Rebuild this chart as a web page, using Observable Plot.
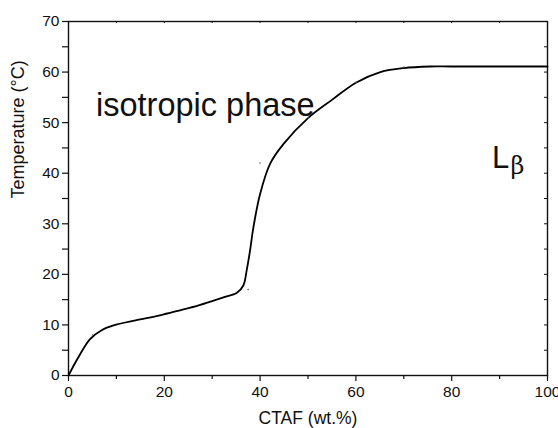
<!DOCTYPE html>
<html>
<head>
<meta charset="utf-8">
<script src="https://cdn.jsdelivr.net/npm/d3@7"></script>
<script src="https://cdn.jsdelivr.net/npm/@observablehq/plot@0.6"></script>
<style>
  html, body { margin: 0; padding: 0; background: #fff; }
  #chart svg { display: block; }
</style>
</head>
<body>
<div id="chart"></div>
<script>
// Phase boundary curve
const curveX = [0, 2, 4.5, 7, 9.4, 14, 19.1, 23.3, 27, 30.3, 32.5, 35.1, 36.5, 37.2, 37.9, 38.6, 40.0, 42.1, 44.9, 50, 55, 60, 65.1, 70.0, 75.5, 80, 100];
const curveY = [0, 3.5, 7.2, 9.0, 9.9, 10.9, 11.9, 12.9, 13.8, 14.8, 15.5, 16.3, 17.8, 20.8, 24.7, 29.3, 35.9, 41.9, 45.8, 50.9, 54.5, 57.9, 60.0, 60.8, 61.1, 61.1, 61.1];
// Measured points (small dots)
const dotX = [5, 37.5, 40, 50, 60, 70];
const dotY = [8, 17, 42, 51, 58, 61];
// Tick labels
const xMajor = [0, 20, 40, 60, 80, 100];
const xMinor = [10, 30, 50, 70, 90];
const yMajor = [0, 10, 20, 30, 40, 50, 60, 70];
const yMinor = [5, 15, 25, 35, 45, 55, 65];
const topTicks = [10, 20, 30, 40, 50, 60, 70, 80, 90];
const rightTicks = [5, 10, 15, 20, 25, 30, 35, 40, 45, 50, 55, 60, 65];

const curve = curveX.map((x, i) => ({x, y: curveY[i]}));
const dots = dotX.map((x, i) => ({x, y: dotY[i]}));

const W = 558, H = 428;
const mL = 68, mR = 11, mT = 21, mB = 53;
const plotW = W - mL - mR, plotH = H - mT - mB;
const font = "Liberation Sans, Arial, Helvetica, sans-serif";

const chart = Plot.plot({
  width: W,
  height: H,
  marginLeft: mL,
  marginRight: mR,
  marginTop: mT,
  marginBottom: mB,
  style: {fontFamily: font, color: "#111", background: "#fff"},
  x: {domain: [0, 100], axis: null},
  y: {domain: [0, 70], axis: null},
  marks: [
    Plot.axisY(yMajor, {anchor: "left", tickSize: 6, tickPadding: 3, fontSize: 15.5, label: null, stroke: "#111", strokeWidth: 1.2}),
    Plot.axisY(yMinor, {anchor: "left", tickSize: 6, text: null, label: null, stroke: "#111", strokeWidth: 1.2}),
    Plot.axisX(xMajor, {anchor: "bottom", tickSize: 6, tickPadding: 4, fontSize: 15.5, label: null, stroke: "#111", strokeWidth: 1.2}),
    Plot.axisX(xMinor, {anchor: "bottom", tickSize: 4, text: null, label: null, stroke: "#111", strokeWidth: 1.2}),
    Plot.ruleX(topTicks, {x: d => d, insetBottom: plotH - 2, stroke: "#111", strokeWidth: 1}),
    Plot.ruleY(rightTicks, {y: d => d, insetLeft: plotW - 3, stroke: "#111", strokeWidth: 1}),
    Plot.frame({stroke: "#111", strokeWidth: 1.4}),
    Plot.line(curve, {x: "x", y: "y", curve: "catmull-rom", stroke: "#000", strokeWidth: 1.8}),
    Plot.dot(dots, {x: "x", y: "y", r: 0.8, fill: "#666", stroke: null}),
    Plot.text(["isotropic phase"], {x: 5.75, y: 51.4, text: d => d, textAnchor: "start", lineAnchor: "bottom", fontSize: 32.5, fill: "#111"}),
    Plot.text(["L"], {x: 88.4, y: 41, text: d => d, textAnchor: "start", lineAnchor: "bottom", fontSize: 31, fill: "#111"}),
    Plot.text(["β"], {x: 88.4, y: 41, text: d => d, dx: 18.5, dy: 6, textAnchor: "start", lineAnchor: "bottom", fontSize: 24, fill: "#111", fontFamily: "DejaVu Serif, serif"}),
    Plot.text(["CTAF (wt.%)"], {frameAnchor: "bottom", text: d => d, dy: 48, lineAnchor: "bottom", fontSize: 17.5, fill: "#111"}),
    Plot.text(["Temperature (°C)"], {frameAnchor: "left", text: d => d, dx: -50, rotate: -90, lineAnchor: "middle", fontSize: 18, fill: "#111"})
  ]
});
document.getElementById("chart").appendChild(chart);
</script>
</body>
</html>
